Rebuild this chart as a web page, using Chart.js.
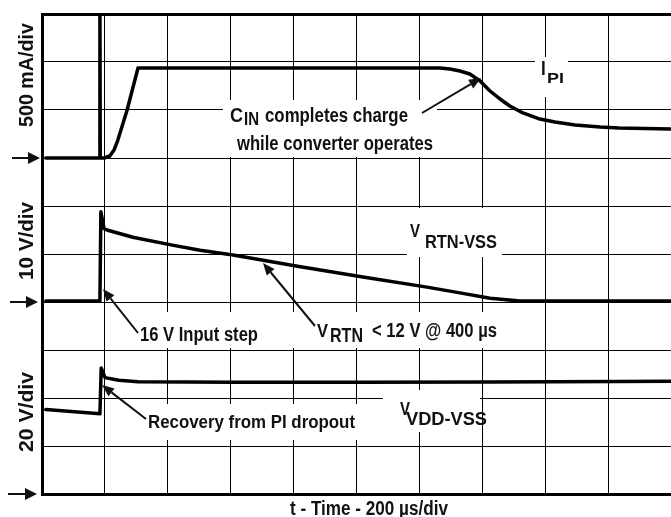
<!DOCTYPE html>
<html>
<head>
<meta charset="utf-8">
<script src="https://cdn.jsdelivr.net/npm/chart.js@4"></script>
<style>
  html, body { margin: 0; padding: 0; background: #fff; }
  canvas { display: block; }
</style>
</head>
<body>
<canvas id="c" width="671" height="517"></canvas>
<script>
// ---------------- DATA ----------------
// time axis: 200 µs per division
const timeStepUs = 200;
// I_PI trace (mA), 500 mA/div, zero at division 7
const iTime    = [12, 180, 181, 182, 194, 212, 225, 237, 266, 300, 1244, 1275, 1306, 1337, 1369, 1400, 1431, 1462, 1503, 1556, 1603, 1666, 1744, 1803, 1966];
const iCurrent = [0, 0, 1600, 0, 0, 21, 83, 187, 500, 937, 937, 927, 906, 875, 802, 698, 615, 542, 469, 406, 375, 344, 323, 312, 302];
// V_RTN-VSS trace (V), 10 V/div, zero at division 4
const rTime = [12, 181, 184, 194, 203, 284, 403, 494, 597, 803, 1003, 1203, 1306, 1400, 1494, 1966];
const rVolt = [0.2, 0.2, 18.8, 15.3, 15.0, 13.5, 11.9, 10.8, 9.8, 7.4, 5.2, 3.1, 1.9, 0.8, 0.2, 0.2];
// V_VDD-VSS trace (V), 20 V/div, zero at division 0
const vTime = [12, 181, 185, 197, 240, 300, 600, 1000, 1400, 1800, 1966];
const vVolt = [35.2, 33.4, 52.5, 48.5, 47.4, 46.8, 46.6, 46.6, 46.7, 46.9, 47.0];

// scale ranges (10 vertical divisions each)
const iRange = [-3500, 1500], iStep = 500;
const rRange = [-40, 60];
const vRange = [0, 200];
const xMax = 629 / 64 * timeStepUs;   // visible part of the 10-div screen

// ---------------- ANNOTATION LAYOUT ----------------
const FONT = '"Liberation Sans", Arial, Helvetica, sans-serif';
// [text, x, baseline, size, targetWidth]
const noteTexts = [
  ['C', 230, 122, 20, 13], ['IN', 244, 125, 19, 15], ['completes charge', 265, 122, 20, 143],
  ['while converter operates', 237, 150, 20, 196],
  ['I', 541, 75, 20, 0], ['PI', 547, 83, 15, 17],
  ['V', 410, 237, 19, 10], ['RTN-VSS', 425, 248, 18, 72],
  ['16 V Input step', 140, 341, 20, 118],
  ['V', 317, 337, 19, 11], ['RTN', 330, 342, 20, 33], ['< 12 V @ 400 \u00b5s', 372, 337, 20, 125],
  ['Recovery from PI dropout', 148, 428, 19, 207],
  ['V', 400, 415, 19, 10], ['VDD-VSS', 406, 425, 18, 81],
  ['t - Time - 200 \u00b5s/div', 290, 515, 20, 158]
];
// rotated scale labels: [text, baselineX, centerY, size, targetWidth]
const sideTexts = [
  ['500 mA/div', 33, 75, 20, 104],
  ['10 V/div', 33, 241, 20, 78],
  ['20 V/div', 33, 412, 20, 80]
];
// white boxes hiding the graticule behind labels: [x0, y0, x1, y1]
const labelBoxes = [
  [223, 100, 437, 157],
  [535, 57, 568, 97],
  [407, 208, 502, 257],
  [135, 312, 502, 348],
  [143, 404, 358, 440],
  [383, 390, 480, 432]
];
// arrows: [x1, y1, x2(tip), y2(tip), lineWidth, headLen, headHalfWidth]
const noteArrows = [
  [422, 113, 481, 78, 2, 12, 5],
  [138, 333, 103, 289, 2, 12, 5],
  [315, 326, 263, 263, 2, 12, 5],
  [146, 419, 102, 385, 2, 12, 5],
  [12, 158, 40, 158, 2, 12, 6],
  [10, 302, 38, 302, 2, 12, 6],
  [8, 494, 37, 494, 2, 12, 6]
];

function fitText(ctx, str, x, y, size, width) {
  ctx.font = 'bold ' + size + 'px ' + FONT;
  const w = ctx.measureText(str).width;
  const sx = width ? width / w : 0.85;
  ctx.save();
  ctx.translate(x, y);
  ctx.scale(sx, 1);
  ctx.textAlign = 'left';
  ctx.textBaseline = 'alphabetic';
  ctx.fillText(str, 0, 0);
  ctx.restore();
}
function drawArrow(ctx, a) {
  const [x1, y1, x2, y2, lw, hl, hw] = a;
  const ang = Math.atan2(y2 - y1, x2 - x1);
  const bx = x2 - hl * Math.cos(ang), by = y2 - hl * Math.sin(ang);
  ctx.lineWidth = lw;
  ctx.beginPath(); ctx.moveTo(x1, y1); ctx.lineTo(bx, by); ctx.stroke();
  ctx.beginPath();
  ctx.moveTo(x2, y2);
  ctx.lineTo(bx + hw * Math.sin(ang), by - hw * Math.cos(ang));
  ctx.lineTo(bx - hw * Math.sin(ang), by + hw * Math.cos(ang));
  ctx.closePath(); ctx.fill();
}

const scopeNotes = {
  id: 'scopeNotes',
  beforeDatasetsDraw(chart) {
    const ctx = chart.ctx;
    ctx.save();
    ctx.fillStyle = '#fff';
    for (const b of labelBoxes) ctx.fillRect(b[0], b[1], b[2] - b[0], b[3] - b[1]);
    ctx.restore();
  },
  afterDatasetsDraw(chart) {
    const ctx = chart.ctx;
    ctx.save();
    ctx.fillStyle = '#111';
    ctx.strokeStyle = '#111';
    for (const t of noteTexts) fitText(ctx, t[0], t[1], t[2], t[3], t[4]);
    for (const s of sideTexts) {
      ctx.font = 'bold ' + s[3] + 'px ' + FONT;
      const w = ctx.measureText(s[0]).width;
      ctx.save();
      ctx.translate(s[1], s[2]);
      ctx.rotate(-Math.PI / 2);
      ctx.scale(s[4] / w, 1);
      ctx.textAlign = 'center';
      ctx.textBaseline = 'alphabetic';
      ctx.fillText(s[0], 0, 0);
      ctx.restore();
    }
    for (const a of noteArrows) drawArrow(ctx, a);
    ctx.restore();
  }
};

const toXY = (xs, ys) => xs.map((x, i) => ({ x: x, y: ys[i] }));

new Chart(document.getElementById('c'), {
  type: 'line',
  data: {
    datasets: [
      { label: 'I_PI', data: toXY(iTime, iCurrent), yAxisID: 'yI' },
      { label: 'V_RTN-VSS', data: toXY(rTime, rVolt), yAxisID: 'yR' },
      { label: 'V_VDD-VSS', data: toXY(vTime, vVolt), yAxisID: 'yV' }
    ]
  },
  options: {
    responsive: false,
    animation: false,
    devicePixelRatio: 1,
    layout: { padding: { left: 42, top: 14, right: 0, bottom: 23 } },
    plugins: { legend: { display: false }, tooltip: { enabled: false } },
    elements: {
      point: { radius: 0 },
      line: { tension: 0, borderWidth: 3.5, borderColor: '#000', borderJoinStyle: 'round', borderCapStyle: 'round', fill: false }
    },
    scales: {
      x: {
        type: 'linear', min: 0, max: xMax,
        ticks: { display: false, stepSize: timeStepUs, includeBounds: false },
        grid: { color: '#000', lineWidth: 1, drawTicks: false },
        border: { display: true, color: '#000', width: 3 }
      },
      xTop: {
        type: 'linear', position: 'top', min: 0, max: xMax,
        ticks: { display: false },
        grid: { display: false, drawTicks: false },
        border: { display: true, color: '#000', width: 3 }
      },
      yI: {
        type: 'linear', position: 'left', min: iRange[0], max: iRange[1],
        ticks: { display: false, stepSize: iStep },
        grid: { color: '#000', lineWidth: 1, drawTicks: false },
        border: { display: true, color: '#000', width: 3 }
      },
      yR: { type: 'linear', display: false, min: rRange[0], max: rRange[1] },
      yV: { type: 'linear', display: false, min: vRange[0], max: vRange[1] }
    }
  },
  plugins: [scopeNotes]
});
</script>
</body>
</html>
